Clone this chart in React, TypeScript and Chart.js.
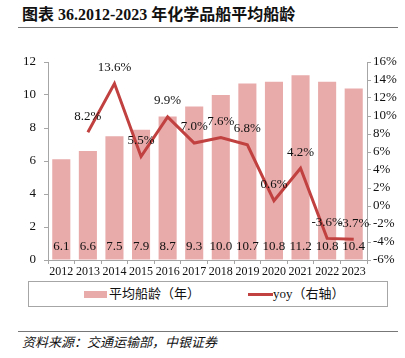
import React, { useEffect, useRef } from "react";
import { Chart, registerables } from "chart.js";

Chart.register(...registerables);

const years = ["2012", "2013", "2014", "2015", "2016", "2017", "2018", "2019", "2020", "2021", "2022", "2023"];
const avgAge = [6.1, 6.6, 7.5, 7.9, 8.7, 9.3, 10.0, 10.7, 10.8, 11.2, 10.8, 10.4];
const yoy: (number | null)[] = [null, 8.2, 13.6, 5.5, 9.9, 7.0, 7.6, 6.8, 0.6, 4.2, -3.6, -3.7];

const TITLE = "图表 36.2012-2023 年化学品船平均船龄";
const SOURCE = "资料来源：交通运输部，中银证券";
const BAR_LABEL = "平均船龄（年）";
const LINE_LABEL = "yoy（右轴）";

const FONT = '"Liberation Serif", "Noto Sans CJK SC", serif';
const BAR_COLOR = "#E9AAAA";
const LINE_COLOR = "#C0413F";
const AXIS_COLOR = "#a6a6a6";

const valueLabels = {
  id: "valueLabels",
  afterDatasetsDraw(chart: any) {
    const ctx = chart.ctx;
    ctx.save();
    ctx.font = `13px ${FONT}`;
    ctx.fillStyle = "#111";
    ctx.textAlign = "center";
    ctx.textBaseline = "middle";
    const y0 = chart.scales.y.getPixelForValue(0);
    chart.getDatasetMeta(0).data.forEach((el: any, i: number) => {
      ctx.fillText(avgAge[i].toFixed(1), el.x, y0 - 13);
    });
    chart.getDatasetMeta(1).data.forEach((el: any, i: number) => {
      const v = yoy[i];
      if (v == null) return;
      ctx.fillText(v.toFixed(1) + "%", el.x, el.y - 16);
    });
    ctx.restore();
  },
};

export default function App() {
  const ref = useRef<HTMLCanvasElement | null>(null);

  useEffect(() => {
    if (!ref.current) return;
    const tickFont = { family: FONT, size: 13 };
    const chart = new Chart(ref.current, {
      type: "bar",
      data: {
        labels: years,
        datasets: [
          {
            type: "bar",
            label: BAR_LABEL,
            data: avgAge,
            backgroundColor: BAR_COLOR,
            barPercentage: 0.68,
            categoryPercentage: 1,
            yAxisID: "y",
            order: 2,
          },
          {
            type: "line",
            label: LINE_LABEL,
            data: yoy,
            borderColor: LINE_COLOR,
            backgroundColor: LINE_COLOR,
            borderWidth: 3,
            pointRadius: 0,
            tension: 0,
            yAxisID: "y1",
            order: 1,
          },
        ],
      } as any,
      options: {
        responsive: false,
        animation: false,
        layout: { padding: { top: 17, left: 0, right: 0, bottom: 0 } },
        plugins: { legend: { display: false }, tooltip: { enabled: false } },
        scales: {
          x: {
            grid: { display: true, drawOnChartArea: false, offset: true, tickLength: 4, color: AXIS_COLOR },
            border: { color: AXIS_COLOR },
            ticks: { font: { family: FONT, size: 12 }, color: "#111", padding: 1, maxRotation: 0, autoSkip: false },
            afterFit: (s: any) => {
              s.height = 20;
            },
          },
          y: {
            position: "left",
            min: 0,
            max: 12,
            grid: { drawOnChartArea: false, tickLength: 4, color: AXIS_COLOR },
            border: { color: AXIS_COLOR },
            ticks: { stepSize: 2, font: tickFont, color: "#111", padding: 8, autoSkip: false },
            afterFit: (s: any) => {
              s.width = 48;
            },
          },
          y1: {
            position: "right",
            min: -6,
            max: 16,
            grid: { drawOnChartArea: false, tickLength: 4, color: AXIS_COLOR },
            border: { color: AXIS_COLOR },
            ticks: { stepSize: 2, font: tickFont, color: "#111", padding: 2, autoSkip: false, callback: (v: any) => v + "%" },
            afterFit: (s: any) => {
              s.width = 38;
            },
          },
        },
      } as any,
      plugins: [valueLabels],
    });
    return () => chart.destroy();
  }, []);

  return (
    <div style={{ position: "absolute", left: 0, top: 0, width: 405, height: 358, background: "#fff", fontFamily: FONT }}>
      <div style={{ position: "absolute", left: 22, top: 5, fontSize: 16, fontWeight: "bold", color: "#111", whiteSpace: "nowrap", lineHeight: "20px" }}>
        {TITLE}
      </div>
      <div style={{ position: "absolute", left: 18, top: 27, width: 380, height: 0, borderTop: "1.5px solid #777" }} />
      <canvas ref={ref} width={405} height={235} style={{ position: "absolute", left: 0, top: 45, width: 405, height: 235 }} />
      <div style={{ position: "absolute", left: 28, top: 281, width: 360, height: 26, boxSizing: "border-box", border: "1px solid " + AXIS_COLOR }}>
        <div style={{ position: "absolute", left: 55, top: 9, width: 23, height: 7, background: BAR_COLOR }} />
        <div style={{ position: "absolute", left: 80, top: 3, fontSize: 13, lineHeight: "18px", color: "#111", whiteSpace: "nowrap" }}>{BAR_LABEL}</div>
        <div style={{ position: "absolute", left: 219, top: 11, width: 25, height: 3, background: LINE_COLOR }} />
        <div style={{ position: "absolute", left: 244, top: 3, fontSize: 13, lineHeight: "18px", color: "#111", whiteSpace: "nowrap" }}>{LINE_LABEL}</div>
      </div>
      <div style={{ position: "absolute", left: 18, top: 331, width: 380, height: 0, borderTop: "1.5px solid #777" }} />
      <div style={{ position: "absolute", left: 22, top: 334, fontSize: 13, fontStyle: "italic", lineHeight: "17px", color: "#111", whiteSpace: "nowrap" }}>
        {SOURCE}
      </div>
    </div>
  );
}
